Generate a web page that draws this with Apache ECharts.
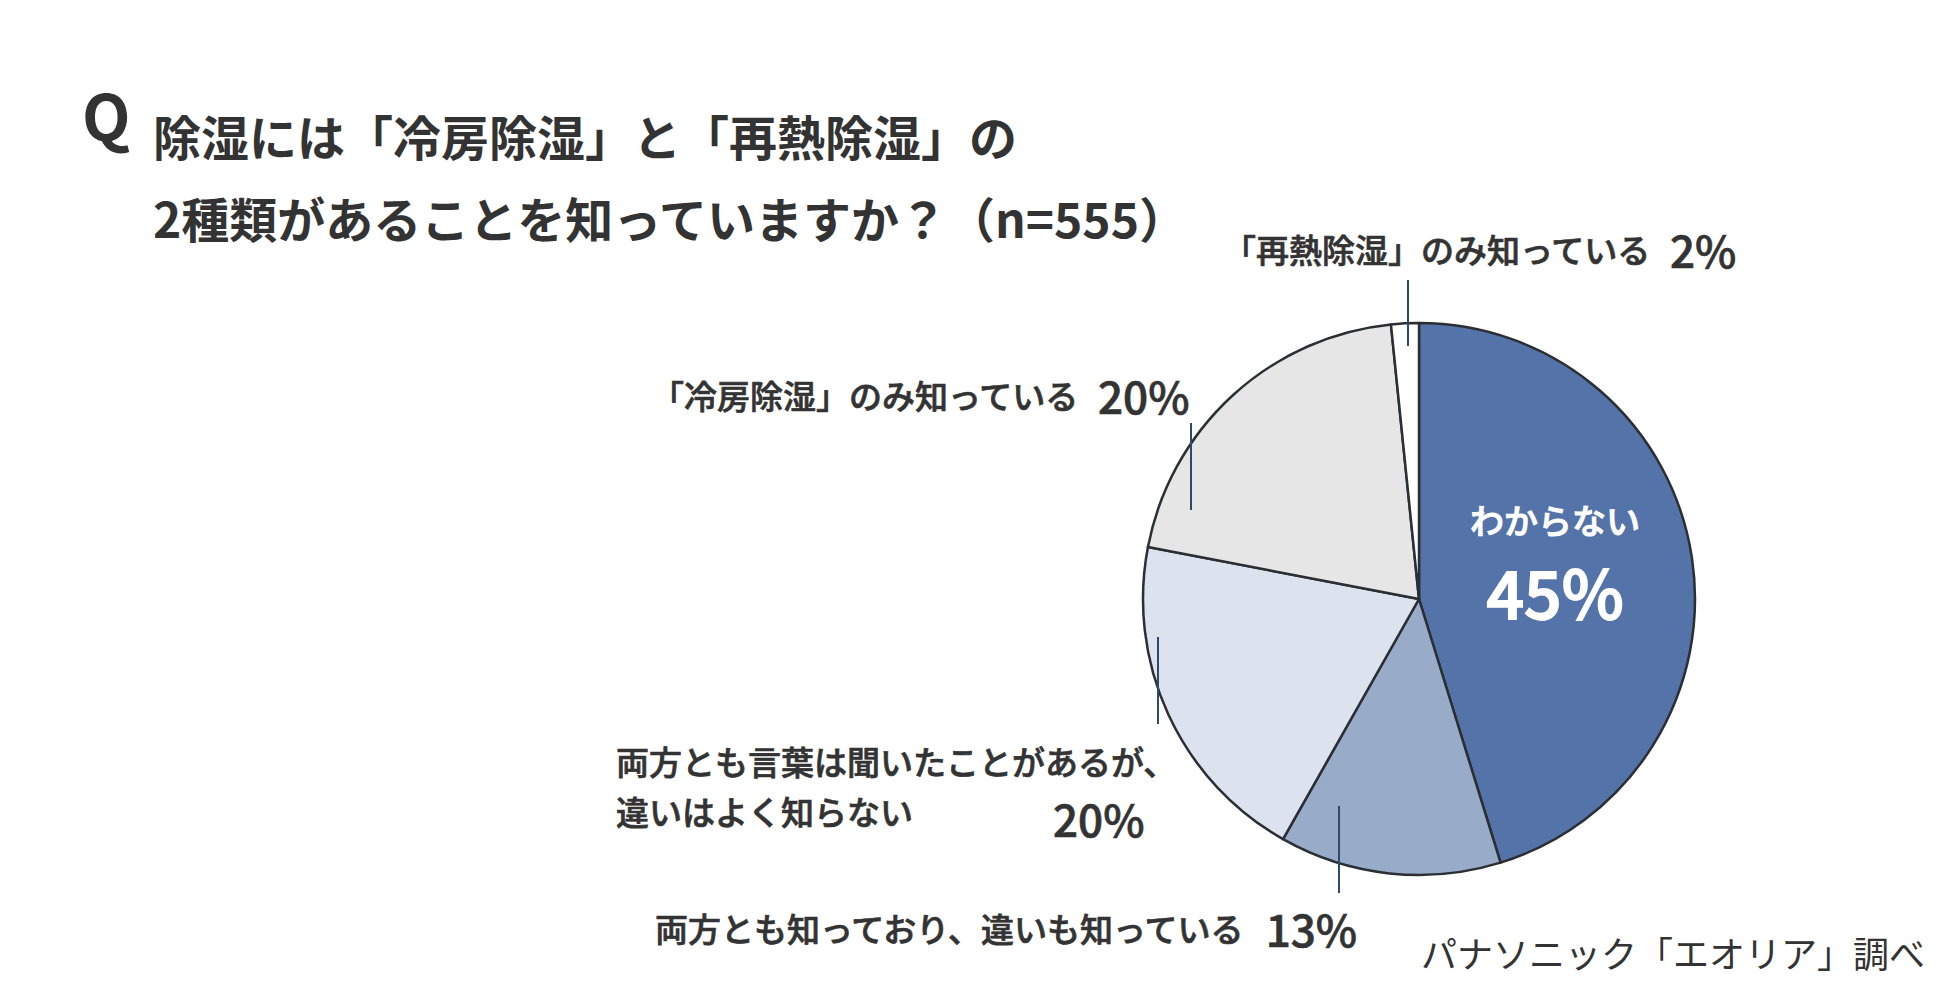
<!DOCTYPE html>
<html>
<head>
<meta charset="utf-8">
<script src="https://cdn.jsdelivr.net/npm/echarts@6/dist/echarts.min.js"></script>
<style>
  html, body { margin: 0; padding: 0; background: #fff; }
  #chart { width: 1950px; height: 990px; }
</style>
</head>
<body>
<div id="chart"></div>
<script>
const FONT = '"Noto Sans CJK JP", "Noto Sans", sans-serif';

// 回答項目（時計回り、上から）
const answers = [
  'わからない',
  '両方とも知っており、違いも知っている',
  '両方とも言葉は聞いたことがあるが、\n違いはよく知らない',
  '「冷房除湿」のみ知っている',
  '「再熱除湿」のみ知っている'
];
// 回答数 (n=555)
const counts = [251, 72, 110, 113, 9];
const sliceColors = ['#5473a8', '#98acca', '#dce3ef', '#e6e6e6', '#ffffff'];

const total = counts.reduce((a, b) => a + b, 0);
const pct = counts.map(v => Math.round(v / total * 100) + '%');

// ラベル位置と引き出し線（x, 上端y, 下端y）
const labelSpots = [
  { x: 1555, y: 489, align: 'center', va: 'top' },
  { x: 655, y: 928, align: 'left', va: 'middle', line: [1339, 806, 893] },
  { x: 616, y: 736, align: 'left', va: 'top', line: [1158, 637, 724] },
  { x: 651, y: 395, align: 'left', va: 'middle', line: [1191, 423, 510] },
  { x: 1223, y: 249, align: 'left', va: 'middle', line: [1408, 280, 346] }
];

function labelText(i) {
  if (i === 0) return '{a|' + answers[0] + '}\n{b|' + pct[0] + '}';
  if (i === 2) {
    const lines = answers[2].split('\n');
    return '{t|' + lines[0] + '}\n{t2|' + lines[1] + '}{p2|' + pct[2] + '}';
  }
  return '{t|' + answers[i] + '}{p|' + pct[i] + '}';
}

// 中くらいの太さに見せる文字
function medium(size, color, extra) {
  return Object.assign({
    fontFamily: FONT, fontSize: size, fontWeight: 500, color: color,
    textBorderColor: color, textBorderWidth: 0.7
  }, extra);
}

const pieBase = {
  type: 'pie',
  center: [1419, 599],
  radius: 276,
  startAngle: 90,
  clockwise: true,
  avoidLabelOverlap: false,
  emphasis: { disabled: true }
};

const chart = echarts.init(document.getElementById('chart'), null, { renderer: 'svg' });

chart.setOption({
  backgroundColor: '#ffffff',
  animation: false,
  title: [
    {
      text: 'Q', left: 82, top: 82, padding: 0,
      textStyle: { fontFamily: FONT, fontSize: 63, fontWeight: 'bold', color: '#333333' }
    },
    {
      text: '除湿には「冷房除湿」と「再熱除湿」の\n2種類があることを知っていますか？（n=555）',
      left: 153, top: 94, padding: 0,
      textStyle: { fontFamily: FONT, fontSize: 48, fontWeight: 'bold', lineHeight: 82, color: '#333333' }
    },
    {
      text: 'パナソニック「エオリア」調べ', right: 25, top: 934, padding: 0,
      textStyle: { fontFamily: FONT, fontSize: 36, fontWeight: 'normal', color: '#333333' }
    }
  ],
  series: [
    Object.assign({}, pieBase, {
      z: 2,
      itemStyle: { borderColor: '#2b2e33', borderWidth: 2.5 },
      label: { show: false },
      labelLine: { show: false },
      data: answers.map((name, i) => ({
        name: name,
        value: counts[i],
        itemStyle: { color: sliceColors[i] }
      }))
    }),
    // ラベルと引き出し線（扇形の上に重ねる）
    Object.assign({}, pieBase, {
      z: 3,
      silent: true,
      itemStyle: { color: 'rgba(0,0,0,0)', borderWidth: 0 },
      label: {
        show: true,
        position: 'outside',
        fontFamily: FONT,
        color: '#333333',
        formatter: p => labelText(p.dataIndex),
        rich: {
          t: medium(33, '#333333', { lineHeight: 50 }),
          t2: medium(33, '#333333', { lineHeight: 50, verticalAlign: 'top', padding: [8, 0, 0, 0] }),
          p: medium(44, '#333333', { lineHeight: 50, padding: [0, 0, 0, 18] }),
          p2: medium(44, '#333333', { lineHeight: 63, padding: [0, 0, 0, 140] }),
          a: medium(34, '#ffffff', { lineHeight: 60, align: 'center', textBorderWidth: 1 }),
          b: medium(66, '#ffffff', { lineHeight: 82, align: 'center', textBorderWidth: 1.8 })
        }
      },
      labelLine: {
        show: true,
        lineStyle: { color: '#2d4a6a', width: 2 }
      },
      labelLayout: function (params) {
        const s = labelSpots[params.dataIndex];
        const out = { x: s.x, y: s.y, align: s.align, verticalAlign: s.va };
        if (s.line) {
          const [lx, y1, y2] = s.line;
          out.labelLinePoints = [[lx, y1], [lx, (y1 + y2) / 2], [lx, y2]];
        }
        return out;
      },
      data: answers.map((name, i) => ({
        name: name,
        value: counts[i],
        labelLine: { show: i !== 0 }
      }))
    })
  ]
});
</script>
</body>
</html>
